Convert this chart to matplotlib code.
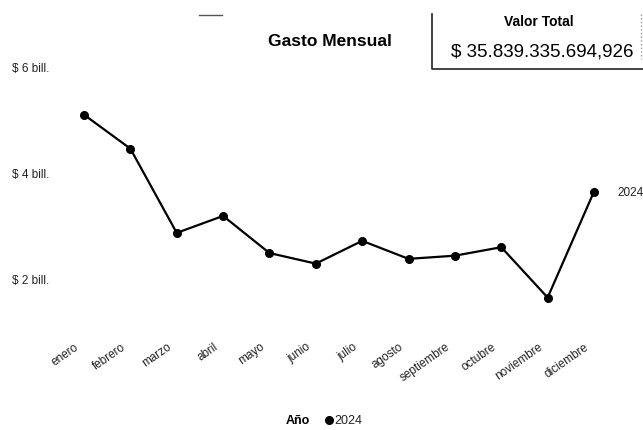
import matplotlib
matplotlib.use('Agg')
import matplotlib.pyplot as plt
import matplotlib.transforms as mtransforms
from matplotlib.lines import Line2D

plt.rcParams['font.family'] = ['Liberation Sans', 'DejaVu Sans']

# Monthly spend for 2024, in billions
months = ['enero', 'febrero', 'marzo', 'abril', 'mayo', 'junio', 'julio',
          'agosto', 'septiembre', 'octubre', 'noviembre', 'diciembre']
gasto_2024 = [5.10, 4.46, 2.87, 3.19, 2.49, 2.29, 2.72,
              2.38, 2.44, 2.60, 1.65, 3.65]
y_ticks = [2, 4, 6]
y_tick_labels = ['$ 2 bill.', '$ 4 bill.', '$ 6 bill.']
series_name = '2024'
total_label = '$ 35.839.335.694,926'

W, H = 643, 431
fig = plt.figure(figsize=(W / 100, H / 100), dpi=100)


def px(x, y):
    """Pixel position (from top-left) to figure fraction."""
    return x / W, 1 - y / H


ax = fig.add_axes([60.8 / W, 1 - 338.3 / H, 556.4 / W, 275.6 / H])
x = list(range(len(months)))
ax.plot(x, gasto_2024, color='black', linewidth=1.6,
        marker='o', markersize=5.5, clip_on=False)

ax.set_xlim(-0.5, len(months) - 0.5)
ax.set_ylim(0.9, 6.1)
ax.set_yticks(y_ticks)
ax.set_yticklabels(y_tick_labels, fontsize=8.5, color='#222222')
ax.set_xticks(x)
ax.set_xticklabels(months, rotation=35, ha='right', rotation_mode='anchor',
                   fontsize=8.5, color='#222222')
ax.tick_params(axis='both', length=0)
ax.tick_params(axis='y', pad=8)
ax.tick_params(axis='x', pad=2)
# nudge month labels so they end just left of their tick
shift = mtransforms.ScaledTranslation(-7 / 72, 0, fig.dpi_scale_trans)
for lbl in ax.get_xticklabels():
    lbl.set_transform(lbl.get_transform() + shift)
for spine in ax.spines.values():
    spine.set_visible(False)

# series name at the end of the line
ax.annotate(series_name, (x[-1], gasto_2024[-1]), xytext=(17, 0),
            textcoords='offset points', fontsize=8.5, color='#222222',
            va='center', ha='left', annotation_clip=False)

# title
fig.text(*px(330, 42), 'Gasto Mensual', fontsize=12.5, fontweight='bold',
         ha='center', va='center')
fig.add_artist(Line2D([199 / W, 222 / W], [1 - 16 / H, 1 - 16 / H],
                      color='#555555', linewidth=1))

# total card
fig.add_artist(Line2D([432 / W, 432 / W, 643 / W],
                      [1 - 15 / H, 1 - 70 / H, 1 - 70 / H],
                      color='#222222', linewidth=1.2))
fig.add_artist(Line2D([641 / W, 641 / W], [1 - 15 / H, 1 - 60 / H],
                      color='#999999', linewidth=1, linestyle=':'))
fig.text(*px(539, 22), 'Valor Total', fontsize=10, fontweight='bold',
         ha='center', va='center')
fig.text(*px(542, 52), total_label, fontsize=13.5,
         ha='center', va='center')

# legend
fig.text(*px(298, 421), 'Año', fontsize=9, fontweight='bold',
         ha='center', va='center')
fig.add_artist(Line2D([328.5 / W], [1 - 421 / H], marker='o', markersize=5.5,
                      color='black', linestyle='none'))
fig.text(*px(334, 421), series_name, fontsize=9, ha='left', va='center',
         color='#222222')

fig.savefig('out.png', dpi=100, facecolor='white')
